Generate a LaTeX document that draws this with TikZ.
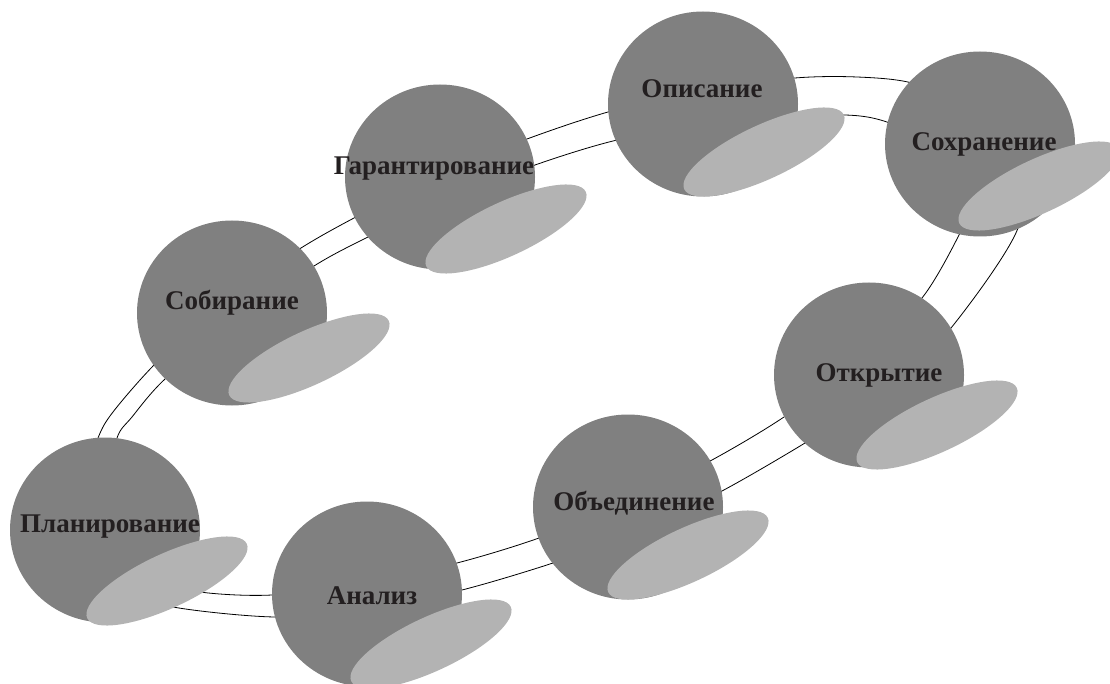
\documentclass[tikz,border=0pt]{standalone}
\usepackage{fontspec}
\setmainfont{Liberation Serif}
\usetikzlibrary{shapes.geometric}
\definecolor{ballgray}{HTML}{808080}
\definecolor{lobegray}{HTML}{B3B3B3}
\definecolor{inkdark}{HTML}{231F20}
\tikzset{
  ball/.style={ellipse, fill=ballgray, minimum width=190pt, minimum height=185pt, inner sep=0pt},
  lobe/.style={ellipse, fill=lobegray, minimum width=176pt, minimum height=54pt, inner sep=0pt, rotate=25},
  word/.style={anchor=base, inner sep=0pt, text=inkdark, font=\bfseries\fontsize{27}{30}\selectfont},
  ring/.style={line width=0.8pt, draw=black}
}
\begin{document}
\begin{tikzpicture}[x=1pt,y=-1pt]
\useasboundingbox (0,0) rectangle (1110,684);
\clip (0,0) rectangle (1110,684);
% ring: outer and inner lines
\draw[ring] plot[smooth cycle] coordinates {
 (98,438) (113,412) (154,365) (222,300) (301,248) (354,218) (440,174) (527,139) (608,112) (700,90) (795,78) (857,77) (912,83) (975,108) (1012,160) (1018,228) (951,328) (885,392) (805,443) (722,491) (638,532) (553,563) (462,590) (368,610) (275,617) (173,607) (118,588) (85,545) (82,490)};
\draw[ring] plot[smooth cycle] coordinates {
 (117,438) (132,417) (165,379) (238,318) (314,266) (366,238) (450,198) (535,165) (617,140) (730,118) (845,115) (890,123) (935,145) (960,180) (966,212) (959,235) (922,298) (858,362) (784,417) (712,460) (628,502) (539,538) (457,563) (366,583) (272,595) (200,592) (148,578) (115,540) (108,490)};
% bubbles
\node[ball] (b1) at (703,104) {};
\node[lobe] (l1) at (764,152) {};
\node[word] (t1) at (702,98) {Описание};
\node[ball] (b2) at (980,144) {};
\node[lobe] (l2) at (1039,186) {};
\node[word] (t2) at (984,151) {Сохранение};
\node[ball] (b3) at (440,177) {};
\node[lobe] (l3) at (506,229) {};
\node[word] (t3) at (434,175) {Гарантирование};
\node[ball] (b4) at (232,313) {};
\node[lobe] (l4) at (309,358) {};
\node[word] (t4) at (232,309) {Собирание};
\node[ball] (b5) at (869,375) {};
\node[lobe] (l5) at (937,425) {};
\node[word] (t5) at (879,381) {Открытие};
\node[ball] (b6) at (105,530) {};
\node[lobe] (l6) at (167,581) {};
\node[word] (t6) at (110,532) {Планирование};
\node[ball] (b7) at (367,594) {};
\node[lobe] (l7) at (431,644) {};
\node[word] (t7) at (372,604) {Анализ};
\node[ball] (b8) at (628,507) {};
\node[lobe] (l8) at (688,555) {};
\node[word] (t8) at (634,510) {Объединение};
\end{tikzpicture}
\end{document}
